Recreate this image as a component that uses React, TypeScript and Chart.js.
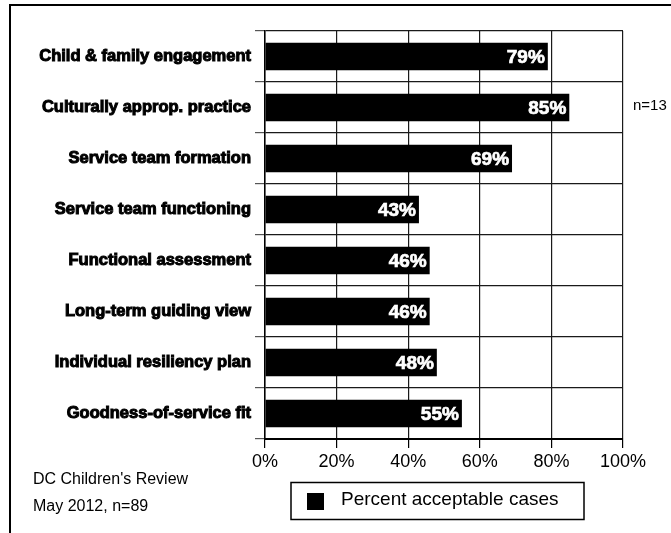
import React, { useEffect, useRef } from 'react';
import { Chart, registerables } from 'chart.js';

Chart.register(...registerables);

const categories = [
  'Child & family engagement',
  'Culturally approp. practice',
  'Service team formation',
  'Service team functioning',
  'Functional assessment',
  'Long-term guiding view',
  'Individual resiliency plan',
  'Goodness-of-service fit',
];
const values = [79, 85, 69, 43, 46, 46, 48, 55];
const xTicks = [0, 20, 40, 60, 80, 100];
const seriesLabel = 'Percent acceptable cases';
const sideNote = 'n=13';
const sideNoteRow = 1;
const noteLines = ["DC Children's Review", 'May 2012, n=89'];

const FONT = '"Liberation Sans", Arial, Helvetica, sans-serif';

const decorations = {
  id: 'decorations',
  beforeDraw(chart: any) {
    const ctx = chart.ctx;
    ctx.save();
    ctx.fillStyle = '#fff';
    ctx.fillRect(0, 0, chart.width, chart.height);
    ctx.strokeStyle = '#000';
    ctx.lineWidth = 2;
    ctx.beginPath();
    ctx.moveTo(10, 533);
    ctx.lineTo(10, 5);
    ctx.lineTo(671, 5);
    ctx.stroke();
    ctx.restore();
  },
  afterDatasetsDraw(chart: any) {
    const ctx = chart.ctx;
    const meta = chart.getDatasetMeta(0);
    ctx.save();
    ctx.fillStyle = '#fff';
    ctx.strokeStyle = '#fff';
    ctx.lineWidth = 0.7;
    ctx.font = 'bold 19px ' + FONT;
    ctx.textAlign = 'right';
    ctx.textBaseline = 'middle';
    meta.data.forEach((bar: any, i: number) => {
      const t = values[i] + '%';
      ctx.fillText(t, bar.x - 3, bar.y + 1);
      ctx.strokeText(t, bar.x - 3, bar.y + 1);
    });
    ctx.restore();
  },
  afterDraw(chart: any) {
    const ctx = chart.ctx;
    const area = chart.chartArea;
    const yScale = chart.scales.y;
    ctx.save();
    ctx.fillStyle = '#000';
    ctx.font = '15px ' + FONT;
    ctx.textAlign = 'left';
    ctx.textBaseline = 'middle';
    ctx.fillText(sideNote, area.right + 10, yScale.getPixelForValue(sideNoteRow) - 2);
    ctx.font = '16px ' + FONT;
    ctx.textBaseline = 'alphabetic';
    ctx.fillText(noteLines[0], 33, 483.5);
    ctx.fillText(noteLines[1], 33, 511);
    ctx.strokeStyle = '#000';
    ctx.lineWidth = 1.5;
    ctx.strokeRect(291, 482.5, 293, 37);
    ctx.fillRect(307, 493, 17, 17);
    ctx.font = '19px ' + FONT;
    ctx.fillText(seriesLabel, 341, 505);
    ctx.restore();
  },
};

export default function App() {
  const ref = useRef<HTMLCanvasElement | null>(null);
  useEffect(() => {
    if (!ref.current) return;
    const chart = new Chart(ref.current, {
      type: 'bar',
      data: {
        labels: categories,
        datasets: [
          {
            label: seriesLabel,
            data: values,
            backgroundColor: '#000',
            borderWidth: 0,
            barPercentage: 0.535,
            categoryPercentage: 1,
          },
        ],
      },
      options: {
        indexAxis: 'y',
        responsive: false,
        animation: false,
        layout: { padding: { left: 0, right: 48, top: 31, bottom: 0 } },
        plugins: { legend: { display: false }, tooltip: { enabled: false } },
        scales: {
          x: {
            min: 0,
            max: 100,
            afterBuildTicks: (s: any) => {
              s.ticks = xTicks.map((v) => ({ value: v }));
            },
            afterFit: (s: any) => {
              s.height = 94;
            },
            ticks: {
              callback: (v: any) => v + '%',
              color: '#000',
              font: { family: FONT, size: 18 },
              padding: 3,
              maxRotation: 0,
            },
            grid: { color: '#1a1a1a', lineWidth: 1.2, tickLength: 9, tickColor: '#000' },
            border: { color: '#000', width: 2 },
          },
          y: {
            afterFit: (s: any) => {
              s.width = 265;
            },
            ticks: {
              color: '#000',
              font: { family: FONT, size: 16.5, weight: 'bold' },
              padding: 4,
              textStrokeColor: '#000',
              textStrokeWidth: 1,
            } as any,
            grid: { color: '#1a1a1a', lineWidth: 1.2, tickLength: 10, offset: true, tickColor: '#555' },
            border: { color: '#000', width: 1.5 },
          },
        },
      },
      plugins: [decorations],
    });
    return () => chart.destroy();
  }, []);
  return (
    <div style={{ position: 'absolute', left: 0, top: 0, width: 671, height: 533 }}>
      <canvas ref={ref} width={671} height={533} style={{ width: 671, height: 533, display: 'block' }} />
    </div>
  );
}
